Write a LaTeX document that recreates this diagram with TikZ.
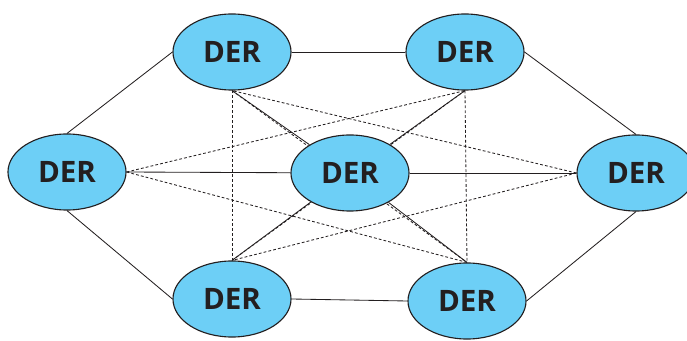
\documentclass[tikz,border=0pt]{standalone}
\usepackage{fontspec}
\setmainfont{Open Sans}
\usetikzlibrary{shapes.geometric,backgrounds}
\definecolor{derblue}{HTML}{6DCFF6}
\definecolor{dertext}{HTML}{231F20}
\begin{document}
\begin{tikzpicture}[x=0.025cm,y=-0.025cm,
	der/.style={ellipse,draw=dertext,thick,fill=derblue,minimum width=2.95cm,minimum height=1.9cm,inner sep=0pt,font=\fontsize{21}{21}\selectfont\bfseries,text=dertext},
	link/.style={draw=dertext,semithick},
	dlink/.style={draw=dertext,semithick,dash pattern=on 2pt off 1.5pt}]
		\useasboundingbox (0,0) rectangle (687,341);
		\node[der] (l) at (67,172) {DER};
		\node[der] (tl) at (232,52) {DER};
		\node[der] (tr) at (465,52) {DER};
		\node[der] (c) at (350,173) {DER};
		\node[der] (r) at (636,173) {DER};
		\node[der] (bl) at (232,299) {DER};
		\node[der] (br) at (467,301) {DER};
		\begin{scope}[on background layer]
		\draw[link] (l.north)--(tl.west);
		\draw[link] (tl.east)--(tr.west);
		\draw[link] (tr.east)--(r.north);
		\draw[link] (l.south)--(bl.west);
		\draw[link] (bl.east)--(br.west);
		\draw[link] (br.east)--(r.south);
		\draw[link] (l.east)--(c);
		\draw[link] (c)--(r.west);
		\foreach\n in {tl,tr} {
			\draw[link] (\n.south)--(c);
		}
		\foreach\n in {bl,br} {
			\draw[link] (\n.north)--(c);
		}
		\foreach\n in {tr.south,br.north} {
			\draw[dlink] (l.east)--(\n);
		}
		\foreach\n in {tl.south,bl.north} {
			\draw[dlink] (r.west)--(\n);
		}
		\draw[dlink] (tl.south)--(bl.north);
		\draw[dlink] (tr.south)--(br.north);
		\draw[dlink] (tl.south)--(br.north);
		\draw[dlink] (tr.south)--(bl.north);
		\end{scope}
\end{tikzpicture}
\end{document}
